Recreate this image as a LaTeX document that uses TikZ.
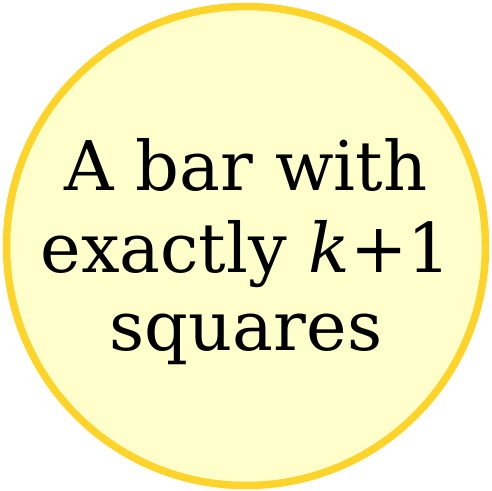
\documentclass[tikz,border=0pt]{standalone}
\usepackage{fontspec}
\setmainfont{DejaVu Serif}
\definecolor{ringcol}{HTML}{FFD42A}
\definecolor{fillcol}{HTML}{FFFFCC}
\begin{document}
\begin{tikzpicture}[x=1pt,y=1pt,
  bubble/.style={circle, draw=ringcol, fill=fillcol, line width=7.5pt, minimum size=479pt, inner sep=0pt},
  label/.style={anchor=base, inner sep=0pt, font=\fontsize{68.5}{80}\selectfont}]
\useasboundingbox (0,0) rectangle (492,-490);
\node[bubble] (c) at (246,-246) {};
\node[label] (t1) at (246,-190) {A bar with};
\node[label] (t2) at (246,-272) {exactly \textit{k}+1};
\node[label] (t3) at (246,-350) {squares};
\end{tikzpicture}
\end{document}
